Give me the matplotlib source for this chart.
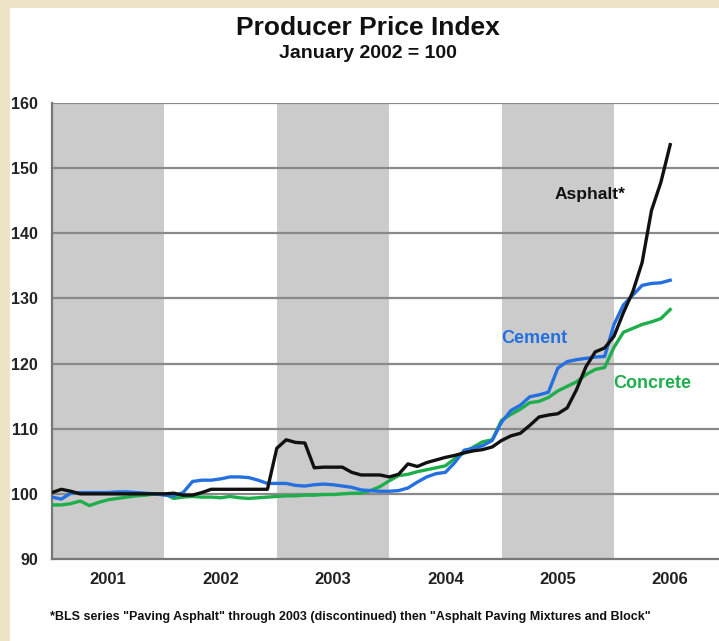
import numpy as np
import matplotlib
matplotlib.use("Agg")
import matplotlib.pyplot as plt
from matplotlib.patches import Rectangle

plt.rcParams['font.family'] = ['Liberation Sans', 'DejaVu Sans']

# monthly index values, Jan 2001 .. Jul 2006 (January 2002 = 100)
asphalt = [100.2, 100.7, 100.4, 100.0, 100.0, 100.0, 100.0, 100.0, 100.0, 100.0, 100.0, 100.0,
           100.0, 100.1, 99.8, 99.8, 100.2, 100.7, 100.7, 100.7, 100.7, 100.7, 100.7, 100.7,
           107.0, 108.3, 107.9, 107.8, 104.0, 104.1, 104.1, 104.1, 103.3, 102.9, 102.9, 102.9,
           102.6, 103.0, 104.6, 104.2, 104.8, 105.2, 105.6, 105.9, 106.3, 106.6, 106.8, 107.2,
           108.2, 108.9, 109.3, 110.5, 111.8, 112.1, 112.3, 113.2, 116.0, 119.5, 121.8, 122.4,
           124.2, 127.8, 131.0, 135.5, 143.5, 147.8, 153.6]
cement = [99.5, 99.2, 100.1, 100.2, 100.2, 100.2, 100.2, 100.3, 100.3, 100.2, 100.1, 100.0,
          99.8, 99.7, 100.2, 101.9, 102.1, 102.1, 102.3, 102.6, 102.6, 102.5, 102.1, 101.6,
          101.6, 101.6, 101.3, 101.2, 101.4, 101.5, 101.4, 101.2, 101.0, 100.6, 100.5, 100.4,
          100.4, 100.5, 100.9, 101.8, 102.6, 103.1, 103.3, 104.8, 106.7, 107.0, 107.4, 108.2,
          111.0, 112.8, 113.6, 114.9, 115.2, 115.6, 119.3, 120.3, 120.6, 120.8, 121.0, 121.1,
          126.0, 129.0, 130.5, 132.0, 132.3, 132.4, 132.8]
concrete = [98.3, 98.3, 98.5, 98.9, 98.2, 98.7, 99.1, 99.3, 99.5, 99.7, 99.8, 100.0,
            100.0, 99.3, 99.5, 99.6, 99.5, 99.5, 99.4, 99.6, 99.4, 99.3, 99.4, 99.5,
            99.6, 99.7, 99.7, 99.8, 99.8, 99.9, 99.9, 100.0, 100.1, 100.1, 100.5, 101.1,
            102.0, 102.8, 103.0, 103.4, 103.7, 104.0, 104.3, 105.4, 106.3, 107.2, 108.0, 108.3,
            111.3, 112.2, 113.0, 114.0, 114.2, 114.8, 115.8, 116.5, 117.2, 118.3, 119.1, 119.4,
            122.5, 124.8, 125.4, 126.0, 126.4, 126.9, 128.3]
years = [2001, 2002, 2003, 2004, 2005, 2006]
shaded_years = [2001, 2003, 2005]

months = 2001 + np.arange(len(asphalt)) / 12.0

fig = plt.figure(figsize=(7.19, 6.41), dpi=100)
fig.patch.set_facecolor('#EEE3C5')
fig.patches.append(Rectangle((10 / 719, 0), 1, 1 - 8 / 641, transform=fig.transFigure,
                             facecolor='white', edgecolor='none', zorder=-1))

ax = fig.add_axes([52 / 719, 1 - 559 / 641, 1 - 52 / 719, (559 - 103) / 641])
ax.set_facecolor('white')

for y in shaded_years:
    ax.axvspan(y, y + 1, color='#CBCBCB', lw=0, zorder=0)

for v in range(100, 161, 10):
    ax.axhline(v, color='#8A8A8A', lw=1.6, zorder=1)

ax.plot(months, concrete, color='#1FAE4C', lw=2.4, zorder=3)
ax.plot(months, cement, color='#2470E0', lw=2.4, zorder=4)
ax.plot(months, asphalt, color='#111111', lw=2.4, zorder=5)

ax.set_xlim(2001, 2001 + (719 - 52) / 112.4)
ax.set_ylim(90, 160)
ax.set_yticks(range(90, 161, 10))
ax.set_xticks([y + 0.5 for y in years])
ax.set_xticklabels([str(y) for y in years])
ax.tick_params(length=0, colors='#222222')
ax.tick_params(axis='y', pad=10, labelsize=11.5)
ax.tick_params(axis='x', pad=9, labelsize=12)
for lab in ax.get_xticklabels() + ax.get_yticklabels():
    lab.set_fontweight('bold')

for side in ['top', 'right']:
    ax.spines[side].set_visible(False)
ax.spines['left'].set_color('#777777')
ax.spines['bottom'].set_color('#777777')
ax.spines['left'].set_linewidth(1.6)
ax.spines['bottom'].set_linewidth(1.6)

ax.text(2005.475, 146.0, 'Asphalt*', color='#111111', fontsize=12.5, fontweight='bold', va='center')
ax.text(2005.0, 123.8, 'Cement', color='#2470E0', fontsize=13, fontweight='bold', va='center')
ax.text(2005.99, 116.9, 'Concrete', color='#1FAE4C', fontsize=13, fontweight='bold', va='center')

fig.text(368 / 719, 1 - 28 / 641, 'Producer Price Index', ha='center', va='center',
         fontsize=19, fontweight='bold', color='#111111')
fig.text(368 / 719, 1 - 54 / 641, 'January 2002 = 100', ha='center', va='center',
         fontsize=14, fontweight='bold', color='#111111')
fig.text(350 / 719, 1 - 617 / 641,
         '*BLS series "Paving Asphalt" through 2003 (discontinued) then "Asphalt Paving Mixtures and Block"',
         ha='center', va='center', fontsize=9.0, fontweight='bold', color='#111111')

fig.savefig('out.png', dpi=100, facecolor=fig.get_facecolor())
